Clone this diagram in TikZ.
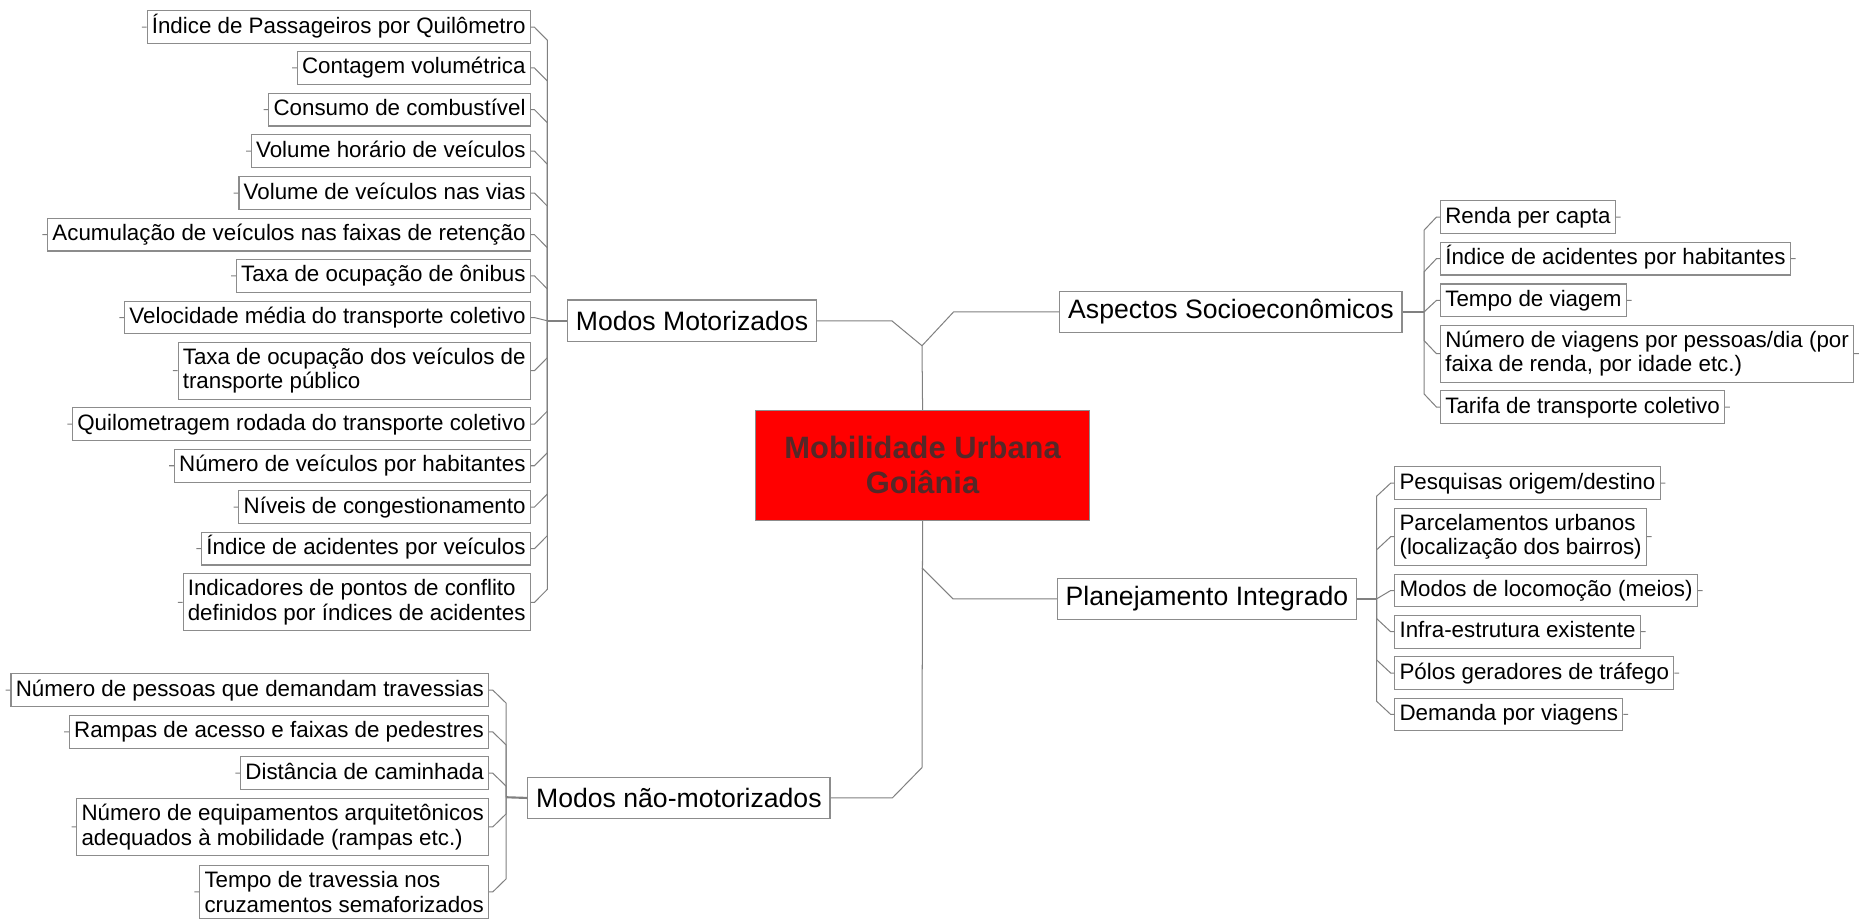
\documentclass[tikz,border=0pt]{standalone}
\usepackage{fontspec}
\setmainfont{Liberation Sans}
\usetikzlibrary{calc}
\definecolor{wiregray}{RGB}{128,128,128}
\definecolor{framegray}{RGB}{140,140,140}
\definecolor{hubred}{RGB}{255,0,0}
\definecolor{hubtext}{RGB}{85,40,40}
\newcommand{\leaffont}{\fontsize{18.8}{20.5}\selectfont}
\newcommand{\branchfont}{\fontsize{22.4}{26}\selectfont}
\newcommand{\hubfont}{\fontsize{26}{29.5}\selectfont\bfseries}

\begin{document}
\begin{tikzpicture}[x=1pt,y=-1pt]
        %
        % `hub' is the red centre box, `branch' the four main topics,
        % `leaf' a one-line indicator, `leafbox' a two-line one.
        % `wire' is a connector, `twigL'/`twigR' hang a leaf on its bracket.
        \tikzstyle{wire} = [draw=wiregray,line width=0.85pt]
        \tikzstyle{hub} = [draw=framegray,fill=hubred,text=hubtext,font=\hubfont,align=center,minimum width=281pt,minimum height=93pt]
        \tikzstyle{branch} = [draw=framegray,line width=0.9pt,fill=white,font=\branchfont,inner xsep=7pt,minimum height=35pt]
        \tikzstyle{leafbox} = [draw=framegray,line width=0.9pt,fill=white,font=\leaffont,inner xsep=4pt,inner ysep=5pt]
        \tikzstyle{leaf} = [leafbox,inner ysep=4.25pt,text height=14.5pt,text depth=4.5pt]
        \tikzstyle{twigL} = [wire,to path={(\tikztostart.west) -- ++(-4,0)
            (\tikztostart.east) -- ++(3,0) -- ($(\tikztotarget |- \tikztostart.east)+(0,#1)$) -- (\tikztotarget)}]
        \tikzstyle{twigR} = [wire,to path={(\tikztostart.east) -- ++(4,0)
            (\tikztostart.west) -- ++(-3,0) -- ($(\tikztotarget |- \tikztostart.west)+(0,#1)$) -- (\tikztotarget)}]
        %
        % Page
        \fill[white] (0,0) rectangle (1568,773);
        \useasboundingbox (0,0) rectangle (1568,773);
        %
        % Centre and trunk
        \node[hub] (hub) at (776.5,391.7) {Mobilidade Urbana\\Goiânia};
        \coordinate (jtop) at (776,291);
        \coordinate (jpi) at (776,478);
        \coordinate (jnm) at (776,646);
        \draw[wire] (jtop) -- (hub.north);
        \draw[wire] (hub.south) -- (jnm);
        %
        % Main branches
        \node[branch,anchor=east] (mm) at (687.6,270) {Modos Motorizados};
        \node[branch,anchor=west] (as) at (891.6,262.5) {Aspectos Socioeconômicos};
        \node[branch,anchor=west] (pi) at (889.5,504) {Planejamento Integrado};
        \node[branch,anchor=east] (nm) at (699,671.6) {Modos não-motorizados};
        \draw[wire] (mm.east) -- ++(63,0) -- (jtop);
        \draw[wire] (as.west) -- ++(-89,0) -- (jtop);
        \draw[wire] (pi.west) -- ++(-87.5,0) -- (jpi);
        \draw[wire] (nm.east) -- ++(52,0) -- (jnm);
        %
        % Brackets
        \coordinate (bmm) at (460.7,270);
        \coordinate (bas) at (1198.6,262.5);
        \coordinate (bpi) at (1158.7,504);
        \coordinate (bnm) at (426,671);
        \draw[wire,line width=1.8pt] (mm.west) -- (bmm);
        \draw[wire,line width=1.8pt] (as.east) -- (bas);
        \draw[wire,line width=1.8pt] (pi.east) -- (bpi);
        \draw[wire,line width=1.8pt] (nm.west) -- (bnm);
        %
        % Modos Motorizados
        \node[leaf,anchor=east] (mm1) at (446.8,22.9) {Índice de Passageiros por Quilômetro} edge[twigL=11] (bmm);
        \node[leaf,anchor=east] (mm2) at (446.8,57.2) {Contagem volumétrica} edge[twigL=11] (bmm);
        \node[leaf,anchor=east] (mm3) at (446.8,92.3) {Consumo de combustível} edge[twigL=11] (bmm);
        \node[leaf,anchor=east] (mm4) at (446.8,127.2) {Volume horário de veículos} edge[twigL=11] (bmm);
        \node[leaf,anchor=east] (mm5) at (446.8,162.5) {Volume de veículos nas vias} edge[twigL=11] (bmm);
        \node[leaf,anchor=east] (mm6) at (446.8,197.5) {Acumulação de veículos nas faixas de retenção} edge[twigL=11] (bmm);
        \node[leaf,anchor=east] (mm7) at (446.8,232.2) {Taxa de ocupação de ônibus} edge[twigL=11] (bmm);
        \node[leaf,anchor=east] (mm8) at (446.8,267.3) {Velocidade média do transporte coletivo} edge[twigL=2.7] (bmm);
        \node[leafbox,align=left,anchor=east] (mm9) at (446.8,312) {Taxa de ocupação dos veículos de\\transporte público} edge[twigL=-11] (bmm);
        \node[leaf,anchor=east] (mm10) at (446.8,357) {Quilometragem rodada do transporte coletivo} edge[twigL=-11] (bmm);
        \node[leaf,anchor=east] (mm11) at (446.8,392) {Número de veículos por habitantes} edge[twigL=-11] (bmm);
        \node[leaf,anchor=east] (mm12) at (446.8,426.8) {Níveis de congestionamento} edge[twigL=-11] (bmm);
        \node[leaf,anchor=east] (mm13) at (446.8,461.8) {Índice de acidentes por veículos} edge[twigL=-11] (bmm);
        \node[leafbox,align=left,anchor=east] (mm14) at (446.8,507) {Indicadores de pontos de conflito\\definidos por índices de acidentes} edge[twigL=-11] (bmm);
        %
        % Aspectos Socioeconomicos
        \node[leaf,anchor=west] (as1) at (1212,182.7) {Renda per capta} edge[twigR=11] (bas);
        \node[leaf,anchor=west] (as2) at (1212,217.7) {Índice de acidentes por habitantes} edge[twigR=11] (bas);
        \node[leaf,anchor=west] (as3) at (1212,252.8) {Tempo de viagem} edge[twigR=9.7] (bas);
        \node[leafbox,align=left,anchor=west] (as4) at (1212,297.7) {Número de viagens por pessoas/dia (por\\faixa de renda, por idade etc.)} edge[twigR=-11] (bas);
        \node[leaf,anchor=west] (as5) at (1212,342.6) {Tarifa de transporte coletivo} edge[twigR=-11] (bas);
        %
        % Planejamento Integrado
        \node[leaf,anchor=west] (pi1) at (1173.5,406.6) {Pesquisas origem/destino} edge[twigR=11] (bpi);
        \node[leafbox,align=left,anchor=west] (pi2) at (1173.5,451.7) {Parcelamentos urbanos\\(localização dos bairros)} edge[twigR=11] (bpi);
        \node[leaf,anchor=west] (pi3) at (1173.5,497) {Modos de locomoção (meios)} edge[twigR=7] (bpi);
        \node[leaf,anchor=west] (pi4) at (1173.5,531.7) {Infra-estrutura existente} edge[twigR=-11] (bpi);
        \node[leaf,anchor=west] (pi5) at (1173.5,566.5) {Pólos geradores de tráfego} edge[twigR=-11] (bpi);
        \node[leaf,anchor=west] (pi6) at (1173.5,601.3) {Demanda por viagens} edge[twigR=-11] (bpi);
        %
        % Modos nao-motorizados
        \node[leaf,anchor=east] (nm1) at (411.7,580.8) {Número de pessoas que demandam travessias} edge[twigL=11] (bnm);
        \node[leaf,anchor=east] (nm2) at (411.7,616) {Rampas de acesso e faixas de pedestres} edge[twigL=11] (bnm);
        \node[leaf,anchor=east] (nm3) at (411.7,650.7) {Distância de caminhada} edge[twigL=11] (bnm);
        \node[leafbox,align=left,anchor=east] (nm4) at (411.7,696) {Número de equipamentos arquitetônicos\\adequados à mobilidade (rampas etc.)} edge[twigL=-11] (bnm);
        \node[leafbox,align=left,anchor=east] (nm5) at (411.7,750.7) {Tempo de travessia nos\\cruzamentos semaforizados} edge[twigL=-11] (bnm);
        %
\end{tikzpicture}
\end{document}
